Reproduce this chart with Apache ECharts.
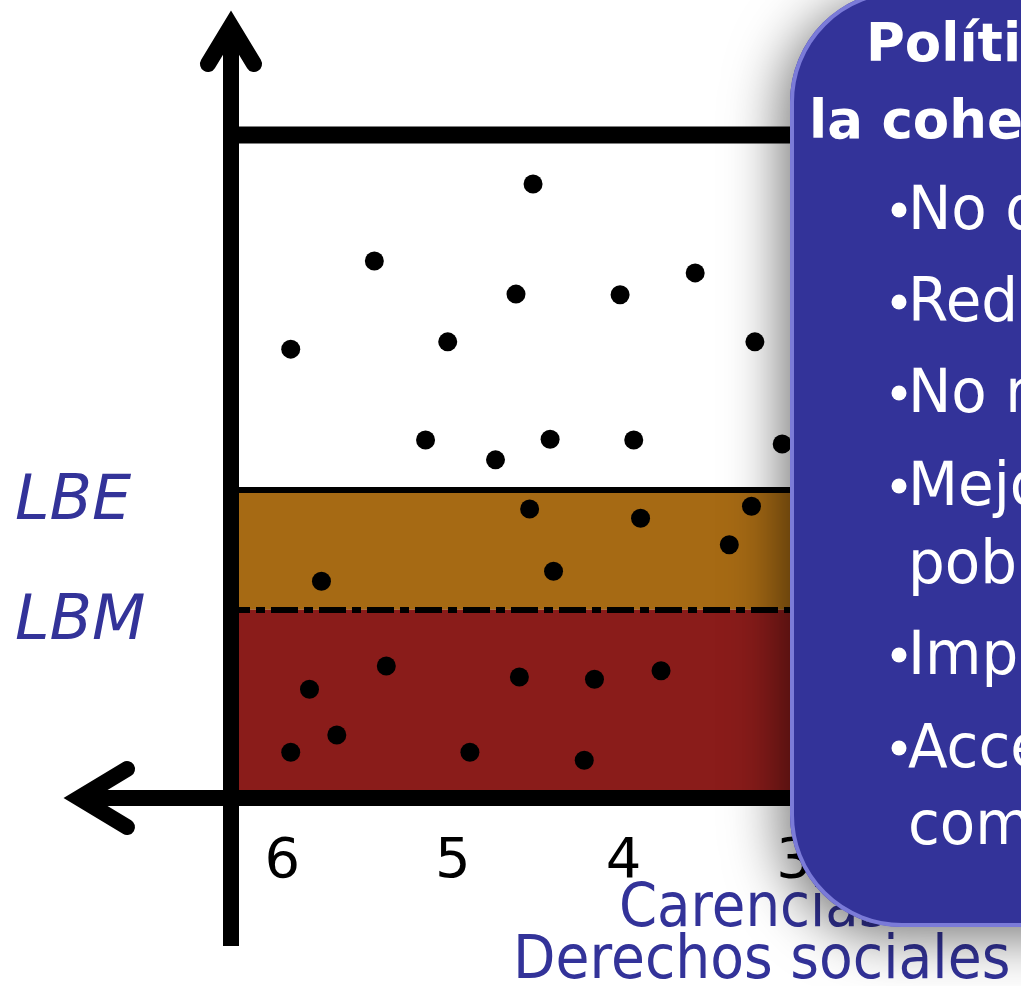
<!DOCTYPE html>
<html><head><meta charset="utf-8">
<script src="https://cdn.jsdelivr.net/npm/echarts@6/dist/echarts.min.js"></script>
<style>html,body{margin:0;padding:0;background:#fff;overflow:hidden}#c{width:1021px;height:986px}</style>
</head><body><div id="c"></div>
<script>
// ---- data ----
const xTicks = [6, 5, 4, 3];
const lineLabels = ['LBM', 'LBE'];
const lineValues = [28.4, 46.5];
const dotsX = [4.53, 5.46, 4.63, 4.02, 3.58, 5.95, 5.03, 3.23, 5.16, 4.75, 4.43, 3.94, 3.07,
               4.55, 3.90, 3.25, 3.38, 5.77, 4.41,
               5.84, 5.39, 4.61, 4.17, 3.78, 5.95, 5.68, 4.90, 4.23];
const dotsY = [92.6, 81.0, 76.0, 75.9, 79.2, 67.7, 68.8, 68.8, 54.0, 51.0, 54.1, 54.0, 53.4,
               43.6, 42.2, 44.0, 38.2, 32.7, 34.2,
               16.4, 19.9, 18.25, 17.9, 19.2, 6.9, 9.5, 6.9, 5.7];
const axisTitle = ['Carencias', 'Derechos sociales'];
const boxTitle = ['Políticas para', 'la cohesión social'];
const boxLines = ['No discriminación', 'Redistribución del ingreso', 'No marginación',
                  'Mejorar las condiciones de la', 'población', 'Impulsar la participación',
                  'Acceso a la infraestructura', 'comunitaria'];
const boxBullets = [true, true, true, true, false, true, true, false];

const chart = echarts.init(document.getElementById('c'), null, {renderer: 'canvas'});
const XMIN = 1.7, XMAX = 6.3, YMIN = 0, YMAX = 100;
chart.setOption({
  animation: false,
  backgroundColor: '#ffffff',
  grid: {left: 231, top: 135, width: 785, height: 663},
  xAxis: {
    type: 'value', inverse: true, min: XMIN, max: XMAX,
    axisLine: {show: false}, axisTick: {show: false}, splitLine: {show: false},
    axisLabel: {customValues: xTicks, fontSize: 56, color: '#000', fontFamily: 'DejaVu Sans', margin: 36}
  },
  yAxis: {
    type: 'value', min: YMIN, max: YMAX,
    axisLine: {show: false}, axisTick: {show: false}, splitLine: {show: false},
    axisLabel: {
      customValues: lineValues,
      formatter: v => '{t|' + (lineLabels[lineValues.indexOf(v)] || '') + '}',
      align: 'left', margin: 216,
      rich: {t: {fontSize: 62, fontStyle: 'italic', fontFamily: 'DejaVu Sans', color: '#333399', padding: [26, 0, 0, 0]}}
    }
  },
  series: [{
    type: 'scatter', silent: true, z: 5,
    data: dotsX.map((x, i) => [x, dotsY[i]]),
    symbolSize: 19, itemStyle: {color: '#000', opacity: 1},
    markArea: {
      silent: true,
      data: [
        [{yAxis: lineValues[0], itemStyle: {color: '#a66a14', opacity: 1}}, {yAxis: lineValues[1]}],
        [{yAxis: YMIN, itemStyle: {color: '#8a1c1a', opacity: 1}}, {yAxis: lineValues[0]}]
      ]
    },
    markLine: {
      silent: true, symbol: 'none', label: {show: false},
      data: [
        {yAxis: lineValues[1], lineStyle: {type: 'solid', width: 6, color: '#000'}},
        {yAxis: lineValues[0], lineStyle: {type: [27, 6, 9, 6], dashOffset: 2, width: 6, color: '#000'}}
      ]
    }
  }]
});

const O = chart.convertToPixel({gridIndex: 0}, [XMAX, YMIN]);
const T = chart.convertToPixel({gridIndex: 0}, [XMAX, YMAX]);
const W = 1021;
const blk = {stroke: '#000', lineWidth: 16, fill: null};
const g = [];
g.push({type: 'line', z: 50, shape: {x1: O[0], y1: 28, x2: O[0], y2: 946}, style: Object.assign({}, blk)});
g.push({type: 'polyline', z: 50, shape: {points: [[O[0] - 23, 64], [O[0], 26], [O[0] + 23, 64]]},
        style: Object.assign({}, blk, {lineCap: 'round', lineJoin: 'miter'})});
g.push({type: 'line', z: 50, shape: {x1: 80, y1: O[1], x2: W, y2: O[1]}, style: Object.assign({}, blk)});
g.push({type: 'polyline', z: 50, shape: {points: [[127, O[1] - 29], [79, O[1]], [127, O[1] + 29]]},
        style: Object.assign({}, blk, {lineCap: 'round', lineJoin: 'miter'})});
g.push({type: 'line', z: 50, shape: {x1: O[0] - 8, y1: T[1], x2: W, y2: T[1]}, style: Object.assign({}, blk, {lineWidth: 17})});

function txt(x, y, s, font, fill, sx, z) {
  return {type: 'text', x: x, y: y, scaleX: sx, z: z,
          style: {text: s, font: font, fill: fill, align: 'left', verticalAlign: 'middle',
                  textAlign: 'left', textVerticalAlign: 'middle'}};
}
g.push(txt(619, 910, axisTitle[0], '60px "DejaVu Sans"', '#333399', 0.91, 40));
g.push(txt(513, 962, axisTitle[1], '60px "DejaVu Sans"', '#333399', 0.92, 40));

// callout box
g.push({type: 'rect', z: 100, shape: {x: 790, y: -10, width: 420, height: 937, r: 112},
        style: {fill: '#333399', shadowBlur: 55, shadowColor: 'rgba(0,0,0,0.55)', shadowOffsetX: -8, shadowOffsetY: 10}});
g.push({type: 'rect', z: 101, shape: {x: 792, y: -8, width: 420, height: 933, r: 110},
        style: {fill: null, stroke: '#7b7bd8', lineWidth: 4}});
g.push(txt(866, 47, boxTitle[0], 'bold 53px "DejaVu Sans"', '#fff', 1, 110));
g.push(txt(809, 124, boxTitle[1], 'bold 53px "DejaVu Sans"', '#fff', 1, 110));
const baselines = [232, 324, 415, 508, 586, 677, 770, 847];
boxLines.forEach((s, i) => {
  g.push(txt(908, baselines[i] - 19, s, '61px "DejaVu Sans"', '#fff', 0.95, 110));
  if (boxBullets[i]) g.push({type: 'circle', z: 110, shape: {cx: 899, cy: baselines[i] - 22, r: 7.5}, style: {fill: '#fff'}});
});
chart.setOption({graphic: g});
</script></body></html>
